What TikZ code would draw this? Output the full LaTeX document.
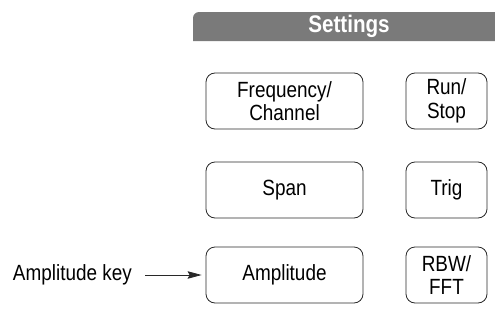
\documentclass[tikz,border=0pt]{standalone}
\usepackage{fontspec}
\setmainfont{Liberation Sans}[FakeStretch=0.86]
\usepackage{xcolor}
\usepackage{tikz}
\usetikzlibrary{arrows.meta,positioning}
\definecolor{figline}{RGB}{40,40,40}
\definecolor{barfill}{RGB}{122,122,122}
\tikzset{
  keybox/.style ={draw=figline, line width=0.8pt, rounded corners=9pt,
                  minimum height=56pt, align=center, inner sep=0pt,
                  font=\fontsize{22}{23.5}\selectfont},
  keywide/.style ={keybox, minimum width=157pt},
  keynarrow/.style={keybox, minimum width=81pt},
  lab/.style   ={font=\fontsize{22}{23.5}\selectfont, inner sep=0pt},
  ptr/.style   ={draw=figline, line width=0.8pt, -{Stealth[length=14pt,width=7.5pt,inset=2pt]}},
}

\begin{document}
\begin{tikzpicture}[x=1pt,y=-1pt]
  \useasboundingbox (0,0) rectangle (495,324);
  % settings bar
  \fill[barfill] (193,41) [rounded corners=6pt] -- (193,12) [sharp corners] -- (495,12) -- (495,41) -- cycle;
  \node[font=\fontsize{24}{26}\selectfont\bfseries, text=white, inner sep=0pt] (settings) at (349,26.5) {Settings};
  % keys
  \node[keywide]   (freq)    at (284.5,101) {Frequency/\\Channel};
  \node[keynarrow] (runstop) at (446.5,101) {Run/\\Stop};
  \node[keywide]   (span)    at (284.5,190) {Span};
  \node[keynarrow] (trig)    at (446.5,190) {Trig};
  \node[keywide]   (ampl)    at (284.5,275) {Amplitude};
  \node[keynarrow] (rbw)     at (446.5,275) {RBW/\\FFT};
  % callout
  \node[lab, anchor=east] (keylabel) at (132,275) {Amplitude key};
  \draw[ptr, shorten <=13pt, shorten >=4pt] (keylabel.east) -- (ampl.west);
\end{tikzpicture}
\end{document}
